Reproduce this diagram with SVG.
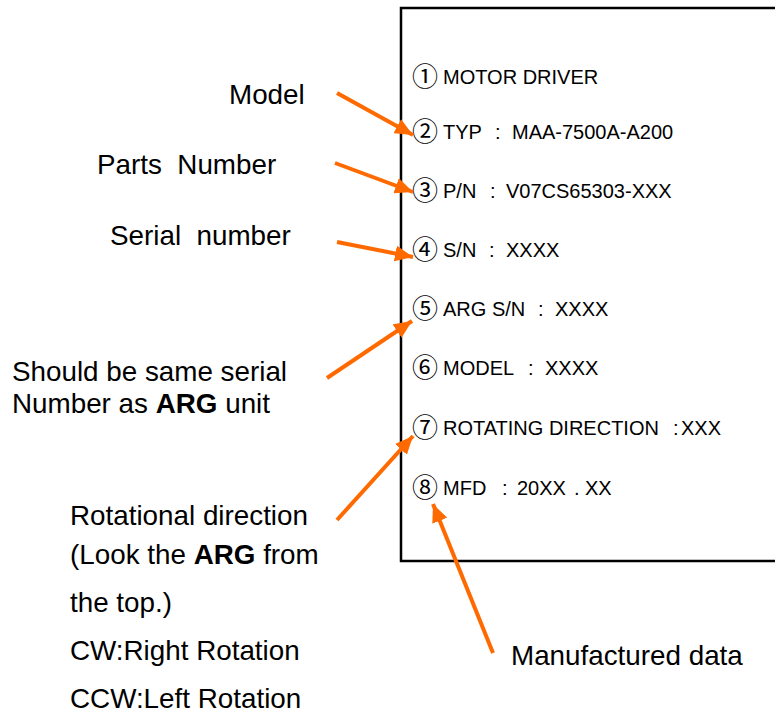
<svg xmlns="http://www.w3.org/2000/svg" width="775" height="716" viewBox="0 0 775 716">
<style>
.lbl{font-family:"Liberation Sans",Arial,sans-serif;font-size:20px;fill:#000}
.num{font-family:"Noto Sans CJK JP","DejaVu Sans",sans-serif;font-size:26px;fill:#000}
.note{font-family:"Liberation Sans",Arial,sans-serif;font-size:27.8px;fill:#000}
.b{font-weight:bold}
.arr{stroke:#FF6A00;stroke-width:4;fill:none;marker-end:url(#ah)}
</style>
<defs>
<marker id="ah" markerUnits="userSpaceOnUse" markerWidth="20" markerHeight="16" refX="18" refY="8" orient="auto">
<path d="M0,0 L18,8 L0,16 Z" fill="#FF6A00"/>
</marker>
</defs>
<rect width="775" height="716" fill="#fff"/>
<g id="label-plate">
<rect x="401" y="8" width="420" height="553" fill="none" stroke="#000" stroke-width="2.5"/>
<text class="num" x="412" y="86">①</text><text class="lbl" x="443" y="84">MOTOR DRIVER</text>
<text class="num" x="412" y="141">②</text><text class="lbl" y="139"><tspan x="443">TYP</tspan><tspan x="495">:</tspan><tspan x="512">MAA-7500A-A200</tspan></text>
<text class="num" x="412" y="200">③</text><text class="lbl" y="198"><tspan x="443">P/N</tspan><tspan x="490">:</tspan><tspan x="506">V07CS65303-XXX</tspan></text>
<text class="num" x="412" y="259">④</text><text class="lbl" y="257"><tspan x="443">S/N</tspan><tspan x="489">:</tspan><tspan x="506">XXXX</tspan></text>
<text class="num" x="412" y="318">⑤</text><text class="lbl" y="316"><tspan x="443">ARG S/N</tspan><tspan x="538">:</tspan><tspan x="555">XXXX</tspan></text>
<text class="num" x="412" y="377">⑥</text><text class="lbl" y="375"><tspan x="443">MODEL</tspan><tspan x="528">:</tspan><tspan x="545">XXXX</tspan></text>
<text class="num" x="412" y="437">⑦</text><text class="lbl" y="435"><tspan x="443">ROTATING DIRECTION</tspan><tspan x="673">:</tspan><tspan x="681">XXX</tspan></text>
<text class="num" x="412" y="497">⑧</text><text class="lbl" y="495"><tspan x="443">MFD</tspan><tspan x="502">:</tspan><tspan x="517">20XX</tspan><tspan x="574">.</tspan><tspan x="585">XX</tspan></text>
</g>
<g id="note-model"><text class="note" x="229" y="104">Model</text></g>
<g id="note-parts"><text class="note" x="97" y="174" xml:space="preserve">Parts  Number</text></g>
<g id="note-serial"><text class="note" x="110" y="245" xml:space="preserve">Serial  number</text></g>
<g id="note-arg">
<text class="note" x="12" y="381">Should be same serial</text>
<text class="note" x="12" y="413">Number as <tspan class="b">ARG</tspan> unit</text>
</g>
<g id="note-rot">
<text class="note" x="70" y="525">Rotational direction</text>
<text class="note" x="70" y="564">(Look the <tspan class="b">ARG</tspan> from</text>
<text class="note" x="70" y="612">the top.)</text>
<text class="note" x="70" y="660">CW:Right Rotation</text>
<text class="note" x="70" y="708">CCW:Left Rotation</text>
</g>
<g id="note-mfd"><text class="note" x="511" y="665">Manufactured data</text></g>
<g id="connectors">
<line class="arr" x1="337" y1="93" x2="413" y2="135"/>
<line class="arr" x1="335" y1="163" x2="413" y2="192"/>
<line class="arr" x1="337" y1="242" x2="413" y2="257"/>
<line class="arr" x1="327" y1="378" x2="412" y2="321"/>
<line class="arr" x1="337" y1="520" x2="413" y2="436"/>
<line class="arr" x1="493" y1="653" x2="433" y2="504"/>
</g>
</svg>
